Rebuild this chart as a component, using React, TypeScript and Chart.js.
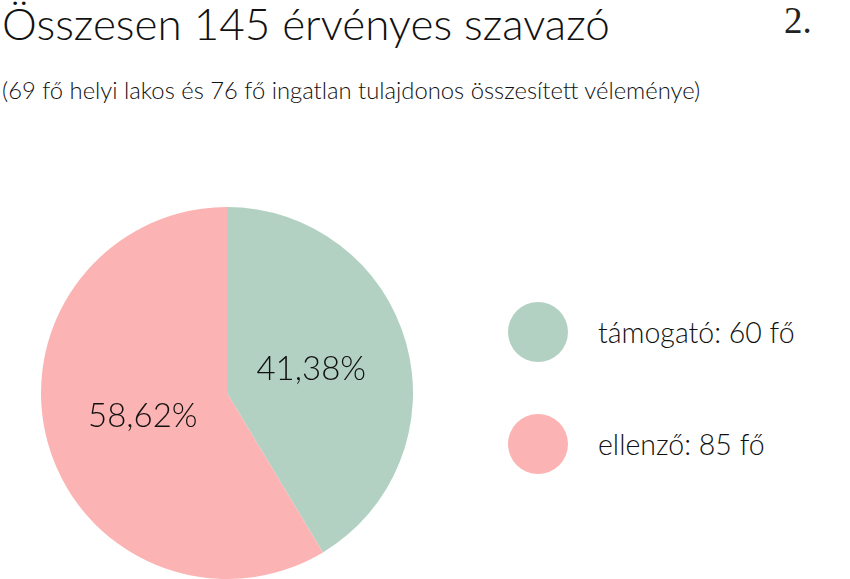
import React, { useEffect, useRef } from "react";
import { Chart, registerables } from "chart.js";

Chart.register(...registerables);

const TITLE = "Összesen 145 érvényes szavazó";
const SUBTITLE = "(69 fő helyi lakos és 76 fő ingatlan tulajdonos összesített véleménye)";
const PAGE_NO = "2.";

const categories = ["támogató", "ellenző"];
const counts = [60, 85];
const percentLabels = ["41,38%", "58,62%"];
const colors = ["#b3d1c3", "#fcb3b3"];
const unit = "fő";

const FONT = "Lato, 'Noto Sans', sans-serif";

const labelPlugin = {
  id: "sliceLabels",
  afterDatasetsDraw(chart: any) {
    const ctx = chart.ctx;
    const meta = chart.getDatasetMeta(0);
    ctx.save();
    ctx.fillStyle = "#111";
    ctx.font = `300 33px ${FONT}`;
    ctx.textAlign = "center";
    ctx.textBaseline = "middle";
    meta.data.forEach((arc: any, i: number) => {
      const p = arc.getProps(["x", "y", "startAngle", "endAngle", "outerRadius"], true);
      const mid = (p.startAngle + p.endAngle) / 2;
      const r = p.outerRadius * 0.47;
      ctx.fillText(percentLabels[i], p.x + Math.cos(mid) * r, p.y + Math.sin(mid) * r);
    });
    ctx.restore();
  },
};

export default function App() {
  const ref = useRef<HTMLCanvasElement>(null);
  useEffect(() => {
    if (!ref.current) return;
    const chart = new Chart(ref.current, {
      type: "pie",
      data: {
        labels: categories,
        datasets: [
          {
            data: counts,
            backgroundColor: colors,
            borderWidth: 0,
          },
        ],
      },
      options: {
        responsive: false,
        animation: false,
        layout: { padding: 0 },
        plugins: {
          legend: { display: false },
          tooltip: { enabled: false },
        },
      },
      plugins: [labelPlugin],
    });
    return () => chart.destroy();
  }, []);

  return (
    <div
      style={{
        position: "fixed",
        left: 0,
        top: 0,
        width: 850,
        height: 579,
        overflow: "hidden",
        background: "#fff",
        fontFamily: FONT,
        color: "#111",
      }}
    >
      <div
        style={{
          position: "absolute",
          left: 2,
          top: -3,
          fontSize: 44,
          fontWeight: 300,
          whiteSpace: "nowrap",
          lineHeight: "52px",
        }}
      >
        {TITLE}
      </div>
      <div
        style={{
          position: "absolute",
          left: 784,
          top: -1,
          fontSize: 37,
          fontWeight: 300,
          fontFamily: "'Liberation Serif', 'Times New Roman', serif",
          lineHeight: "44px",
          color: "#222",
        }}
      >
        {PAGE_NO}
      </div>
      <div
        style={{
          position: "absolute",
          left: 2,
          top: 75,
          fontSize: 23.8,
          fontWeight: 300,
          whiteSpace: "nowrap",
          lineHeight: "30px",
        }}
      >
        {SUBTITLE}
      </div>
      <canvas
        ref={ref}
        width={372}
        height={372}
        style={{ position: "absolute", left: 41, top: 207, width: 372, height: 372 }}
      />
      {categories.map((c, i) => (
        <div
          key={c}
          style={{
            position: "absolute",
            left: 508,
            top: 302 + i * 112,
            height: 60,
            display: "flex",
            alignItems: "center",
            whiteSpace: "nowrap",
          }}
        >
          <div
            style={{
              width: 60,
              height: 60,
              borderRadius: "50%",
              background: colors[i],
              marginRight: 30,
              flexShrink: 0,
            }}
          />
          <span style={{ fontSize: 28.5, fontWeight: 300 }}>
            {c}: {counts[i]} {unit}
          </span>
        </div>
      ))}
    </div>
  );
}
